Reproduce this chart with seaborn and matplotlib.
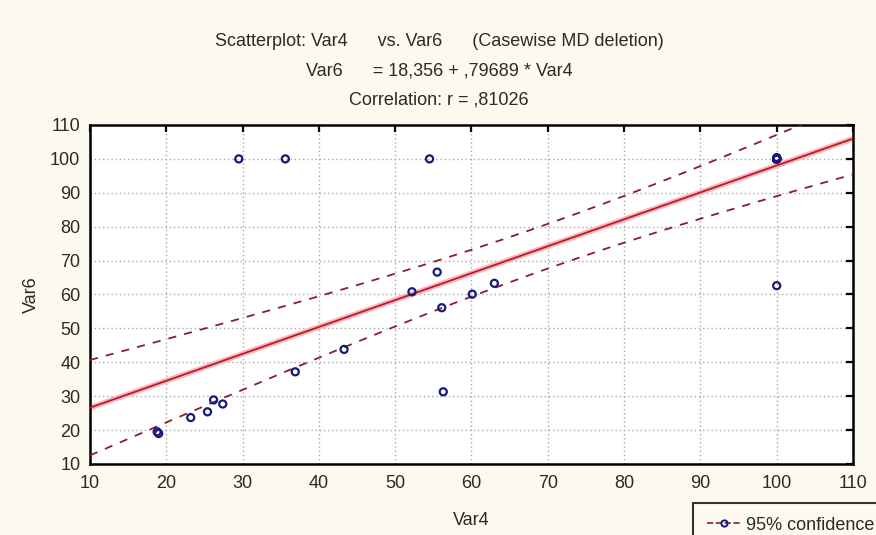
import numpy as np
import pandas as pd
import matplotlib
matplotlib.use("Agg")
import matplotlib.pyplot as plt
from matplotlib.lines import Line2D
import seaborn as sns

# ---- data ----
# visible points
var4_visible = [29.5, 35.6, 54.5, 55.5, 52.2, 60.1, 56.1, 100.0, 100.0, 63.0,
                56.3, 43.3, 36.9, 27.4, 26.2, 25.4, 23.2, 18.8, 19.0]
var6_visible = [100.0, 100.0, 100.0, 66.6, 60.8, 60.1, 56.1, 100.4, 62.6, 63.3,
                31.3, 43.8, 37.2, 27.7, 28.9, 25.4, 23.7, 19.5, 19.0]
# cases hidden under the marker at (100, 100), implied by the printed fit and r
var4_stacked = [100.0, 100.0, 100.0, 100.0, 100.0, 100.0, 100.0, 100.0,
                100.0, 100.0, 100.0, 100.0, 100.0, 100.0, 100.0]
var6_stacked = [100.0, 100.0, 100.0, 100.0, 100.0, 100.0, 100.0, 100.0,
                100.0, 100.0, 100.0, 100.0, 100.0, 100.0, 100.0]

x_ticks = [10, 20, 30, 40, 50, 60, 70, 80, 90, 100, 110]
y_ticks = [10, 20, 30, 40, 50, 60, 70, 80, 90, 100, 110]

title_lines = ["Scatterplot: Var4      vs. Var6      (Casewise MD deletion)",
               "Var6      = 18,356 + ,79689 * Var4",
               "Correlation: r = ,81026"]
legend_label = "95% confidence"

df = pd.DataFrame({"Var4": var4_visible + var4_stacked,
                   "Var6": var6_visible + var6_stacked})

# ---- regression and 95% confidence band of the mean ----
x = df["Var4"].to_numpy()
y = df["Var6"].to_numpy()
n = len(x)
slope, intercept = np.polyfit(x, y, 1)
resid = y - (intercept + slope * x)
s = np.sqrt(np.sum(resid ** 2) / (n - 2))
try:
    from scipy import stats
    tval = stats.t.ppf(0.975, n - 2)
except Exception:
    tval = 2.037
xbar = x.mean()
sxx = np.sum((x - xbar) ** 2)
xg = np.linspace(10, 110, 301)
fit = intercept + slope * xg
hw = tval * s * np.sqrt(1.0 / n + (xg - xbar) ** 2 / sxx)
band = pd.DataFrame({"x": xg, "fit": fit, "lo": fit - hw, "hi": fit + hw})

# ---- styling ----
sns.set_style("white")
plt.rcParams["font.family"] = ["Liberation Sans", "DejaVu Sans"]
bg = "#fcf9ef"
txt_color = "#2a2a2a"
fs = 13
fig = plt.figure(figsize=(8.76, 5.35), dpi=100, facecolor=bg)
ax = fig.add_axes([90 / 876, 1 - 464 / 535, (853 - 90) / 876, (464 - 125) / 535])
ax.set_facecolor("white")

red = "#c0182a"
maroon = "#8a1e2a"
navy = "#1a1a7a"

sns.lineplot(data=band, x="x", y="fit", ax=ax, color="#f5b8bd", lw=4.0,
             estimator=None, sort=False, zorder=2)
sns.lineplot(data=band, x="x", y="fit", ax=ax, color=red, lw=1.3,
             estimator=None, sort=False, zorder=3)
for col in ["lo", "hi"]:
    sns.lineplot(data=band, x="x", y=col, ax=ax, color=maroon, lw=1.3,
                 estimator=None, sort=False, zorder=3, dashes=False,
                 linestyle=(0, (4.5, 4.5)))
sns.scatterplot(data=df, x="Var4", y="Var6", ax=ax, marker="o", s=26,
                facecolor="none", edgecolor=navy, linewidth=1.6, zorder=4)

ax.set_xlim(10, 110)
ax.set_ylim(10, 110)
ax.set_xticks(x_ticks)
ax.set_yticks(y_ticks)
ax.set_xticklabels([str(v) for v in x_ticks], fontsize=fs, color=txt_color)
ax.set_yticklabels([str(v) for v in y_ticks], fontsize=fs, color=txt_color)
ax.tick_params(direction="in", length=5, width=1.6, top=True, right=True,
               colors="black", labelcolor=txt_color, pad=7)
ax.tick_params(axis="x", pad=8)
ax.grid(True, color="#a8a8a8", linestyle=(0, (1, 2)), linewidth=1.0)
for sp in ax.spines.values():
    sp.set_visible(True)
    sp.set_color("black")
    sp.set_linewidth(1.8)
ax.set_xlabel("Var4", fontsize=fs, labelpad=14.5, color=txt_color)
ax.set_ylabel("Var6", fontsize=fs, labelpad=7, color=txt_color)

for txt, yp in zip(title_lines, [41, 71, 100]):
    fig.text(0.501, 1 - yp / 535, txt, ha="center", va="center", fontsize=fs,
             color=txt_color)

handle = Line2D([], [], color=maroon, lw=1.2, linestyle="--", marker="o",
                markersize=4.5, markerfacecolor="none", markeredgecolor=navy,
                markeredgewidth=1.4)
leg = fig.legend([handle], [legend_label], loc="upper left",
                 bbox_to_anchor=(693 / 876, 1 - 503 / 535), fontsize=fs,
                 frameon=True, fancybox=False, borderpad=0.75, handlelength=1.9,
                 handletextpad=0.3, borderaxespad=0, labelcolor=txt_color)
leg.get_frame().set_edgecolor("black")
leg.get_frame().set_linewidth(1.5)
leg.get_frame().set_facecolor(bg)

fig.savefig("out.png", dpi=100, facecolor=bg)
